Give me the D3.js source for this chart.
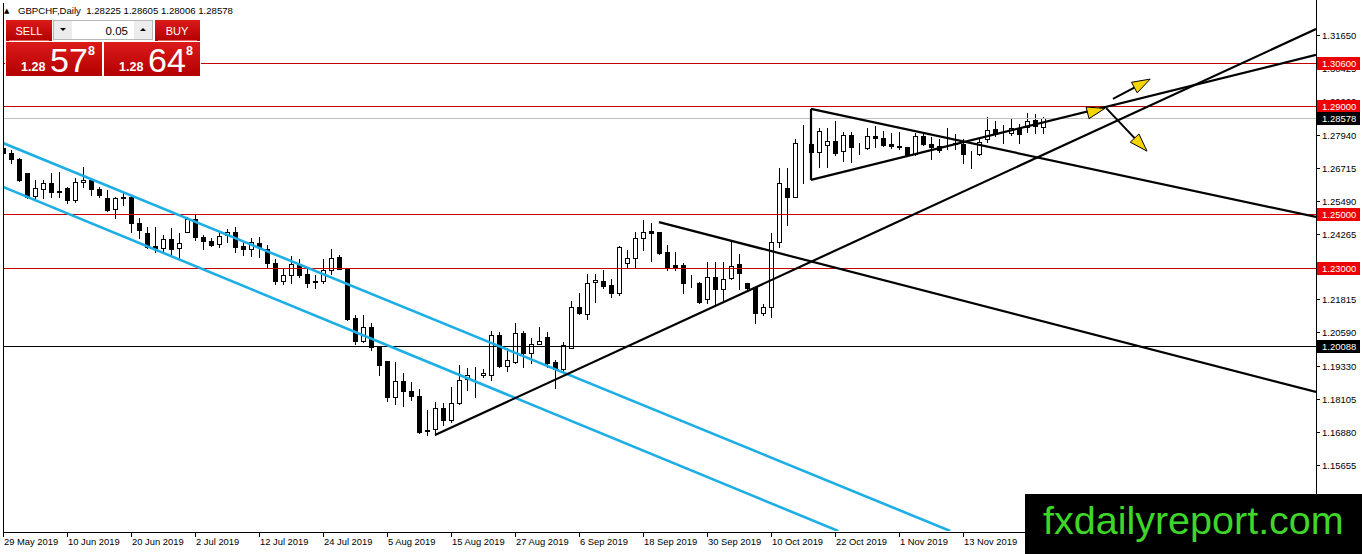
<!DOCTYPE html>
<html><head><meta charset="utf-8">
<script src="https://cdn.jsdelivr.net/npm/d3@7"></script>
<style>body{margin:0;background:#fff;overflow:hidden}svg{display:block}</style>
</head><body>
<svg id="c" width="1362" height="554"></svg>
<script>
// ---------------- DATA ----------------
const symbol = "GBPCHF";
const period = "Daily";
const firstDate = "2019-05-29";
const bid = "1.28578";
const ask = "1.28648";
const lotSize = "0.05";

const open = [
1.2745,1.2726,1.2704,1.2652,1.2566,1.2592,1.2614,1.2585,1.2596,1.2551,
1.2618,1.2626,1.2592,1.2559,1.2518,1.2559,1.2562,1.2466,1.2428,1.2380,
1.2373,1.2406,1.2373,1.2432,1.2480,1.2414,1.2399,1.2388,1.2421,1.2432,
1.2380,1.2369,1.2391,1.2369,1.2317,1.2250,1.2272,1.2313,1.2276,1.2250,
1.2250,1.2291,1.2339,1.2295,1.2112,1.2027,1.2079,1.2004,1.1952,1.1818,
1.1878,1.1841,1.1822,1.1696,1.1699,1.1777,1.1733,1.1796,1.1885,1.1900,
1.1900,1.1900,1.2049,1.1934,1.1949,1.2056,1.1982,1.2016,1.2042,1.1949,
1.1923,1.2001,1.2153,1.2127,1.2246,1.2250,1.2235,1.2205,1.2317,1.2335,
1.2410,1.2436,1.2432,1.2358,1.2309,1.2309,1.2246,1.2242,1.2183,1.2265,
1.2220,1.2261,1.2313,1.2242,1.2228,1.2131,1.2153,1.2395,1.2596,1.2562,
1.2763,1.2760,1.2730,1.2756,1.2771,1.2733,1.2793,1.2748,1.2745,1.2789,
1.2782,1.2760,1.2752,1.2748,1.2722,1.2789,1.2760,1.2752,1.2763,1.2763,
1.2760,1.2726,1.2722,1.2778,1.2815,1.2800,1.2800,1.2819,1.2823,1.2849,
1.28225];
const high = [
1.2763,1.2737,1.2707,1.2652,1.2626,1.2626,1.2652,1.2655,1.2600,1.2633,
1.2674,1.2633,1.2600,1.2588,1.2562,1.2581,1.2570,1.2484,1.2451,1.2451,
1.2421,1.2447,1.2428,1.2488,1.2495,1.2421,1.2410,1.2428,1.2443,1.2451,
1.2395,1.2410,1.2414,1.2384,1.2332,1.2295,1.2343,1.2332,1.2302,1.2272,
1.2332,1.2369,1.2347,1.2298,1.2123,1.2123,1.2094,1.2004,1.1952,1.1949,
1.1908,1.1874,1.1848,1.1770,1.1800,1.1796,1.1856,1.1937,1.1926,1.1930,
1.1923,1.2064,1.2060,1.2001,1.2094,1.2064,1.2038,1.2079,1.2060,1.1956,
1.2023,1.2176,1.2205,1.2276,1.2276,1.2291,1.2257,1.2380,1.2365,1.2432,
1.2477,1.2466,1.2432,1.2384,1.2358,1.2317,1.2272,1.2246,1.2321,1.2321,
1.2321,1.2402,1.2350,1.2242,1.2228,1.2164,1.2428,1.2670,1.2670,1.2778,
1.2830,1.2774,1.2819,1.2819,1.2845,1.2804,1.2804,1.2763,1.2819,1.2827,
1.2808,1.2800,1.2804,1.2748,1.2800,1.2800,1.2786,1.2778,1.2819,1.2797,
1.2778,1.2733,1.2778,1.2860,1.2845,1.2830,1.2856,1.2834,1.2875,1.2871,
1.28605];
const low = [
1.2693,1.2689,1.2622,1.2559,1.2551,1.2559,1.2562,1.2562,1.2540,1.2544,
1.2600,1.2570,1.2562,1.2510,1.2484,1.2533,1.2432,1.2410,1.2373,1.2358,
1.2358,1.2347,1.2335,1.2432,1.2402,1.2369,1.2380,1.2376,1.2395,1.2358,
1.2347,1.2343,1.2339,1.2302,1.2239,1.2239,1.2242,1.2265,1.2228,1.2224,
1.2242,1.2276,1.2295,1.2105,1.2016,1.2023,1.1993,1.1900,1.1804,1.1792,
1.1785,1.1807,1.1684,1.1677,1.1677,1.1714,1.1725,1.1792,1.1844,1.1818,
1.1893,1.1882,1.1930,1.1915,1.1945,1.1930,1.1945,1.2016,1.1930,1.1852,
1.1911,1.2001,1.2127,1.2109,1.2172,1.2224,1.2190,1.2198,1.2302,1.2302,
1.2365,1.2324,1.2350,1.2291,1.2291,1.2205,1.2228,1.2168,1.2168,1.2164,
1.2179,1.2257,1.2220,1.2220,1.2094,1.2123,1.2116,1.2376,1.2458,1.2562,
1.2614,1.2700,1.2674,1.2674,1.2719,1.2696,1.2693,1.2722,1.2741,1.2748,
1.2752,1.2745,1.2741,1.2715,1.2719,1.2756,1.2704,1.2730,1.2741,1.2741,
1.2689,1.2670,1.2719,1.2767,1.2789,1.2763,1.2793,1.2763,1.2804,1.2800,
1.28006];
const close = [
1.2726,1.2704,1.2626,1.2562,1.2596,1.2614,1.2581,1.2581,1.2551,1.2618,
1.2626,1.2592,1.2570,1.2514,1.2559,1.2562,1.2466,1.2440,1.2376,1.2373,
1.2406,1.2369,1.2391,1.2480,1.2414,1.2399,1.2384,1.2417,1.2432,1.2376,
1.2369,1.2395,1.2376,1.2317,1.2250,1.2272,1.2313,1.2272,1.2242,1.2246,
1.2291,1.2335,1.2295,1.2109,1.2027,1.2079,1.2004,1.1937,1.1818,1.1878,
1.1841,1.1822,1.1688,1.1692,1.1777,1.1733,1.1796,1.1882,1.1900,1.1899,
1.1908,1.2049,1.1934,1.1956,1.2056,1.1982,1.2016,1.2027,1.1945,1.1923,
1.2012,1.2153,1.2131,1.2242,1.2254,1.2231,1.2205,1.2376,1.2335,1.2410,
1.2432,1.2428,1.2354,1.2302,1.2302,1.2242,1.2246,1.2172,1.2265,1.2220,
1.2257,1.2306,1.2280,1.2224,1.2131,1.2153,1.2395,1.2614,1.2562,1.2763,
1.2762,1.2730,1.2808,1.2771,1.2726,1.2793,1.2748,1.2747,1.2789,1.2782,
1.2756,1.2752,1.2748,1.2719,1.2789,1.2760,1.2748,1.2737,1.2762,1.2760,
1.2722,1.2725,1.2767,1.2812,1.2797,1.2801,1.2819,1.2797,1.2845,1.2827,
1.28578];

const dateTickLabels = ["29 May 2019","10 Jun 2019","20 Jun 2019","2 Jul 2019","12 Jul 2019","24 Jul 2019",
  "5 Aug 2019","15 Aug 2019","27 Aug 2019","6 Sep 2019","18 Sep 2019","30 Sep 2019","10 Oct 2019",
  "22 Oct 2019","1 Nov 2019","13 Nov 2019"];
const priceTicks = [1.31650,1.30425,1.29200,1.27940,1.26715,1.25490,1.24265,1.21815,
  1.20590,1.19330,1.18105,1.16880,1.15655];

const redLevels = [1.30600, 1.29000, 1.25000, 1.23000];
const blackLevels = [1.20088];
const bidLevel = 1.28578;

// trendlines: [barIndex1, price1, barIndex2, price2]
const channelLines = [[0,1.2763,118.4,1.1320],[0,1.2600,104.4,1.1320]];
const trendLines = [
  [54,1.1677,164.125,1.3187],
  [82,1.2469,164.125,1.1837],
  [101,1.2890,164.125,1.2488],
  [101,1.2890,101,1.2626],
  [101,1.2626,164.125,1.3091]
];
const arrows = [
  [135.5,1.2875,137.75,1.2892],
  [138.75,1.2927,143.4,1.3001],
  [137.9,1.2893,143.0,1.2733]
];
const watermark = "fxdailyreport.com";

// ---------------- CHART ----------------
const svg = d3.select("#c");
const L = 3, R = 1316, T = 0, B = 531;
const x = d3.scaleLinear().domain([0, 164.125]).range([L, R]);
const y = d3.scaleLinear().domain([1.13199, 1.32952]).range([B, T]);
const font = "'Liberation Sans', Arial, sans-serif";

// trading dates (weekdays)
const fmt = d3.timeFormat("%-d %b %Y");
const dateIndex = new Map();
{ let d = d3.timeParse("%Y-%m-%d")(firstDate); let i = 0;
  while (i < 200) { if (d.getDay() !== 0 && d.getDay() !== 6) { dateIndex.set(fmt(d), i); i++; } d = d3.timeDay.offset(d, 1); } }

svg.append("rect").attr("width",1362).attr("height",554).attr("fill","#fff");
svg.append("clipPath").attr("id","pc").append("rect").attr("x",L).attr("y",T).attr("width",R-L).attr("height",B-T);
const g = svg.append("g").attr("clip-path","url(#pc)");

// candles
const bars = d3.range(open.length).map(i => ({i, o:open[i], h:high[i], l:low[i], c:close[i]}));
const cg = g.append("g");
bars.forEach(b => {
  const cx = Math.round(x(b.i));
  cg.append("line").attr("x1",cx+0.5).attr("x2",cx+0.5)
    .attr("y1",Math.round(y(b.h))).attr("y2",Math.round(y(b.l))+1)
    .attr("stroke","#000").attr("stroke-width",1);
  const top = Math.round(y(Math.max(b.o,b.c))), bot = Math.round(y(Math.min(b.o,b.c)));
  cg.append("rect").attr("x",cx-1.5).attr("y",top+0.5).attr("width",4).attr("height",Math.max(0,bot-top))
    .attr("fill", b.c >= b.o ? "#fff" : "#000").attr("stroke","#000").attr("stroke-width",1);
});

// horizontal levels
redLevels.forEach(v => g.append("line").attr("x1",L).attr("x2",R).attr("y1",Math.round(y(v))+0.5).attr("y2",Math.round(y(v))+0.5).attr("stroke","#c40000").attr("stroke-width",1));
blackLevels.forEach(v => g.append("line").attr("x1",L).attr("x2",R).attr("y1",Math.round(y(v))+0.5).attr("y2",Math.round(y(v))+0.5).attr("stroke","#000").attr("stroke-width",1));
g.append("line").attr("x1",L).attr("x2",R).attr("y1",Math.round(y(bidLevel))+0.5).attr("y2",Math.round(y(bidLevel))+0.5).attr("stroke","#c0c0c0").attr("stroke-width",1);

// channel + trend lines
channelLines.forEach(t => g.append("line").attr("x1",x(t[0])).attr("y1",y(t[1])).attr("x2",x(t[2])).attr("y2",y(t[3])).attr("stroke","#1eaee6").attr("stroke-width",2.6));
trendLines.forEach(t => g.append("line").attr("x1",x(t[0])).attr("y1",y(t[1])).attr("x2",x(t[2])).attr("y2",y(t[3])).attr("stroke","#000").attr("stroke-width",2.2));

// arrows
arrows.forEach(a => {
  const x1=x(a[0]), y1=y(a[1]), x2=x(a[2]), y2=y(a[3]);
  const ang = Math.atan2(y2-y1, x2-x1), len = 18, hw = 6;
  const bx = x2 - len*Math.cos(ang), by = y2 - len*Math.sin(ang);
  g.append("line").attr("x1",x1).attr("y1",y1).attr("x2",bx).attr("y2",by).attr("stroke","#000").attr("stroke-width",2);
  const px = -Math.sin(ang)*hw, py = Math.cos(ang)*hw;
  g.append("polygon").attr("points",[[x2,y2],[bx+px,by+py],[bx-px,by-py]].map(p=>p.join(",")).join(" "))
    .attr("fill","#f5d400").attr("stroke","#000").attr("stroke-width",1);
});

// frame / axes
svg.append("line").attr("x1",L+0.5).attr("x2",L+0.5).attr("y1",3).attr("y2",B+1).attr("stroke","#000");
svg.append("line").attr("x1",R+0.5).attr("x2",R+0.5).attr("y1",0).attr("y2",B+1).attr("stroke","#000");
svg.append("line").attr("x1",L).attr("x2",R+1).attr("y1",B+1.5).attr("y2",B+1.5).attr("stroke","#000");

// price axis
const ya = svg.append("g");
priceTicks.forEach(v => {
  const yy = Math.round(y(v));
  ya.append("line").attr("x1",R).attr("x2",R+4).attr("y1",yy+0.5).attr("y2",yy+0.5).attr("stroke","#000");
  ya.append("text").attr("x",R+6).attr("y",yy+3.5).text(v.toFixed(5)).attr("font-family",font).attr("font-size","9.5px").attr("fill","#000");
});
function levelLabel(v, bg){
  const yy = Math.round(y(v));
  ya.append("rect").attr("x",R+1).attr("y",yy-6).attr("width",43).attr("height",13).attr("fill",bg);
  ya.append("text").attr("x",R+6).attr("y",yy+3.5).text(v.toFixed(5)).attr("font-family",font).attr("font-size","9.5px").attr("fill","#fff");
}
redLevels.forEach(v => levelLabel(v, "#ee0000"));
levelLabel(bidLevel, "#000");
blackLevels.forEach(v => levelLabel(v, "#000"));

// date axis
const xa = svg.append("g");
dateTickLabels.forEach(lbl => {
  const i = dateIndex.get(lbl); if (i === undefined) return;
  const xx = Math.round(x(i));
  xa.append("line").attr("x1",xx+0.5).attr("x2",xx+0.5).attr("y1",B+1).attr("y2",B+6).attr("stroke","#000");
  xa.append("text").attr("x",xx+1).attr("y",B+14).text(lbl).attr("font-family",font).attr("font-size","9.4px").attr("fill","#000");
});

// header
svg.append("text").attr("x",4).attr("y",13).text("▲").attr("font-family","DejaVu Sans").attr("font-size","7px");
svg.append("text").attr("x",18).attr("y",14)
  .text(`${symbol},${period}  ${open[open.length-1].toFixed(5)} ${high[high.length-1].toFixed(5)} ${low[low.length-1].toFixed(5)} ${close[close.length-1].toFixed(5)}`)
  .attr("font-family",font).attr("font-size","9.6px").style("white-space","pre");

// one-click panel
const defs = svg.append("defs");
const gr = defs.append("linearGradient").attr("id","rg").attr("x1",0).attr("y1",0).attr("x2",0).attr("y2",1);
gr.append("stop").attr("offset","0").attr("stop-color","#dc1a1a");
gr.append("stop").attr("offset","1").attr("stop-color","#b30000");
const pn = svg.append("g");
pn.append("rect").attr("x",5).attr("y",19).attr("width",196).attr("height",58).attr("fill","#fff");
pn.append("rect").attr("x",6).attr("y",20).attr("width",46).attr("height",21).attr("fill","url(#rg)");
pn.append("line").attr("x1",9).attr("x2",49).attr("y1",40.5).attr("y2",40.5).attr("stroke","#e86060");
pn.append("rect").attr("x",155).attr("y",20).attr("width",45).attr("height",21).attr("fill","url(#rg)");
pn.append("line").attr("x1",158).attr("x2",197).attr("y1",40.5).attr("y2",40.5).attr("stroke","#e86060");
pn.append("text").attr("x",29).attr("y",34.5).attr("text-anchor","middle").text("SELL").attr("font-family",font).attr("font-size","11px").attr("fill","#fff");
pn.append("text").attr("x",177).attr("y",34.5).attr("text-anchor","middle").text("BUY").attr("font-family",font).attr("font-size","11px").attr("fill","#fff");
pn.append("rect").attr("x",53.5).attr("y",20.5).attr("width",99).attr("height",19).attr("fill","#fff").attr("stroke","#b8b8b8");
pn.append("rect").attr("x",54).attr("y",21).attr("width",18).attr("height",18).attr("fill","#ececec");
pn.append("rect").attr("x",134).attr("y",21).attr("width",18).attr("height",18).attr("fill","#ececec");
pn.append("path").attr("d","M60,28 L66,28 L63,31 Z").attr("fill","#000");
pn.append("path").attr("d","M140,31 L146,31 L143,28 Z").attr("fill","#000");
pn.append("text").attr("x",128).attr("y",34.5).attr("text-anchor","end").text(lotSize).attr("font-family",font).attr("font-size","11.5px").attr("fill","#000");
function priceBox(x0, price){
  pn.append("rect").attr("x",x0).attr("y",42).attr("width",96).attr("height",34).attr("fill","url(#rg)");
  pn.append("text").attr("x",x0+15).attr("y",71).text(price.slice(0,4)).attr("font-family",font).attr("font-size","12.5px").attr("font-weight","bold").attr("fill","#fff");
  pn.append("text").attr("x",x0+44).attr("y",72).text(price.slice(4,6)).attr("font-family",font).attr("font-size","34px").attr("fill","#fff");
  pn.append("text").attr("x",x0+82).attr("y",55).text(price.slice(6,7)).attr("font-family",font).attr("font-size","12.5px").attr("font-weight","bold").attr("fill","#fff");
}
priceBox(6, bid);
priceBox(104, ask);

// watermark
svg.append("rect").attr("x",1025).attr("y",494).attr("width",337).attr("height",60).attr("fill","#000");
svg.append("text").attr("x",1043).attr("y",534).text(watermark).attr("font-family",font).attr("font-size","39.5px").attr("fill","#3fd62a");
</script>
</body></html>
